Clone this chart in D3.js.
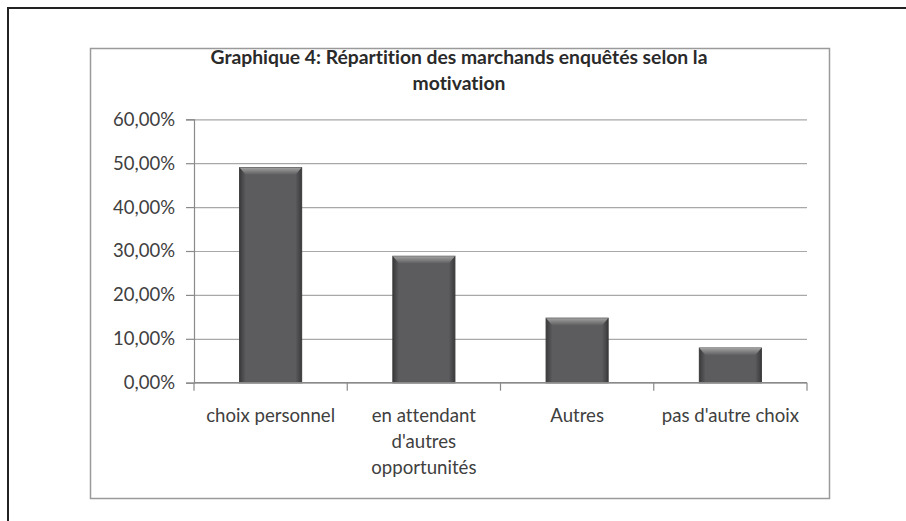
<!DOCTYPE html>
<meta charset="utf-8">
<style>
body { margin: 0; background: #fff; }
svg { display: block; }
text { font-family: Lato, "Open Sans", sans-serif; font-variant-ligatures: none; }
</style>
<body>
<svg width="906" height="521"></svg>
<script src="https://cdn.jsdelivr.net/npm/d3@7"></script>
<script>

// data
var categories = ["choix personnel", "en attendant d'autres opportunités", "Autres", "pas d'autre choix"];
var labelLines = [["choix personnel"], ["en attendant", "d'autres", "opportunités"], ["Autres"], ["pas d'autre choix"]];
var values = [0.49, 0.288, 0.147, 0.079];
var yTicks = [0, 0.1, 0.2, 0.3, 0.4, 0.5, 0.6];
var titleLines = ["Graphique 4: Répartition des marchands enquêtés selon la", "motivation"];

var svg = d3.select("svg");

// french number format: 60,00%
var fr = d3.formatLocale({decimal: ",", thousands: " ", grouping: [3], currency: ["", " €"]});
var fmt = fr.format(".2%");

// measure text at 100px so font sizes can be fitted to the widths in the picture
function fitSize(str, weight, target) {
  var t = svg.append("text").attr("font-size", 100).attr("font-weight", weight).text(str);
  var w = t.node().getComputedTextLength();
  t.remove();
  return 100 * target / w;
}
var titleSize = fitSize(titleLines[0], "bold", 497);
var xLabSize = fitSize("choix personnel", "normal", 129);
var yLabSize = fitSize("60,00%", "normal", 62);

// outer page frame (top and left only)
svg.append("line").attr("x1", 7).attr("x2", 906).attr("y1", 8).attr("y2", 8)
    .attr("stroke", "#222").attr("stroke-width", 2);
svg.append("line").attr("x1", 8).attr("x2", 8).attr("y1", 7).attr("y2", 521)
    .attr("stroke", "#222").attr("stroke-width", 2);

// chart area frame
svg.append("rect").attr("x", 90.5).attr("y", 48.5).attr("width", 739).attr("height", 450)
    .attr("fill", "#fff").attr("stroke", "#9a9a9a").attr("stroke-width", 1.5);

var plotL = 194, plotR = 807, plotT = 119.3, plotB = 382.7;

var x = d3.scaleBand().domain(categories).range([plotL, plotR]).paddingInner(0.595).paddingOuter(0.2975);
var y = d3.scaleLinear().domain([0, 0.6]).range([plotB, plotT]);

// gradients for the bevelled bars
var defs = svg.append("defs");
var gSide = defs.append("linearGradient").attr("id", "side");
gSide.append("stop").attr("offset", "0%").attr("stop-color", "#3a3a3c");
gSide.append("stop").attr("offset", "10%").attr("stop-color", "#5c5c5e");
gSide.append("stop").attr("offset", "90%").attr("stop-color", "#5c5c5e");
gSide.append("stop").attr("offset", "100%").attr("stop-color", "#3a3a3c");
var gTop = defs.append("linearGradient").attr("id", "topb").attr("x1", 0).attr("x2", 0).attr("y1", 0).attr("y2", 1);
gTop.append("stop").attr("offset", "0%").attr("stop-color", "#a2a2a2");
gTop.append("stop").attr("offset", "100%").attr("stop-color", "#606062");

// gridlines
svg.append("g")
    .attr("transform", "translate(" + plotL + ",0)")
    .call(d3.axisLeft(y).tickValues(yTicks).tickSize(-(plotR - plotL)).tickFormat(""))
    .call(function(g) {
      g.select(".domain").remove();
      g.selectAll("line").attr("stroke", "#a8a8a8").attr("stroke-width", 1.2);
    });

// y axis with labels
svg.append("g")
    .attr("transform", "translate(" + plotL + ",0)")
    .call(d3.axisLeft(y).tickValues(yTicks).tickSize(8).tickPadding(11).tickFormat(fmt))
    .call(function(g) {
      g.select(".domain").attr("stroke", "#8a8a8a").attr("stroke-width", 1.2);
      g.selectAll("line").attr("stroke", "#8a8a8a").attr("stroke-width", 1.2);
      g.selectAll("text").attr("font-size", yLabSize).attr("fill", "#404040")
          .attr("font-family", "Lato, sans-serif");
    });

// bars
var bars = svg.append("g").selectAll("g").data(values).enter().append("g");
bars.append("rect")
    .attr("x", function(d, i) { return x(categories[i]); })
    .attr("y", function(d) { return y(d); })
    .attr("width", x.bandwidth())
    .attr("height", function(d) { return plotB - y(d); })
    .attr("fill", "url(#side)")
    .attr("stroke", "#3a3a3a").attr("stroke-width", 1);
bars.append("polygon")
    .attr("points", function(d, i) {
      var x0 = x(categories[i]), x1 = x0 + x.bandwidth(), t = y(d);
      return [[x0, t], [x1, t], [x1 - 6, t + 7], [x0 + 6, t + 7]].join(" ");
    })
    .attr("fill", "url(#topb)");

// x axis: line and ticks at band boundaries
var half = x.step() * x.paddingInner() / 2;
var bounds = categories.map(function(c) { return x(c) - half; }).concat([plotR]);
svg.append("line").attr("x1", plotL).attr("x2", plotR).attr("y1", plotB).attr("y2", plotB)
    .attr("stroke", "#8a8a8a").attr("stroke-width", 1.2);
svg.append("g").selectAll("line").data(bounds).enter().append("line")
    .attr("x1", function(d) { return d; }).attr("x2", function(d) { return d; })
    .attr("y1", plotB).attr("y2", plotB + 8)
    .attr("stroke", "#8a8a8a").attr("stroke-width", 1.2);

// x labels
var xl = svg.append("g").selectAll("text").data(labelLines).enter().append("text")
    .attr("text-anchor", "middle")
    .attr("font-size", xLabSize)
    .attr("fill", "#404040");
xl.selectAll("tspan").data(function(d, i) { return d.map(function(s) { return {s: s, i: i}; }); })
  .enter().append("tspan")
    .attr("x", function(d) { return x(categories[d.i]) + x.bandwidth() / 2; })
    .attr("y", function(d, j) { return 422 + j * 26; })
    .text(function(d) { return d.s; });

// title
svg.append("g").selectAll("text").data(titleLines).enter().append("text")
    .attr("x", 459)
    .attr("y", function(d, i) { return 64 + i * 26; })
    .attr("text-anchor", "middle")
    .attr("font-weight", "bold")
    .attr("font-size", titleSize)
    .attr("fill", "#2a2a2a")
    .text(function(d) { return d; });

</script>
</body>
